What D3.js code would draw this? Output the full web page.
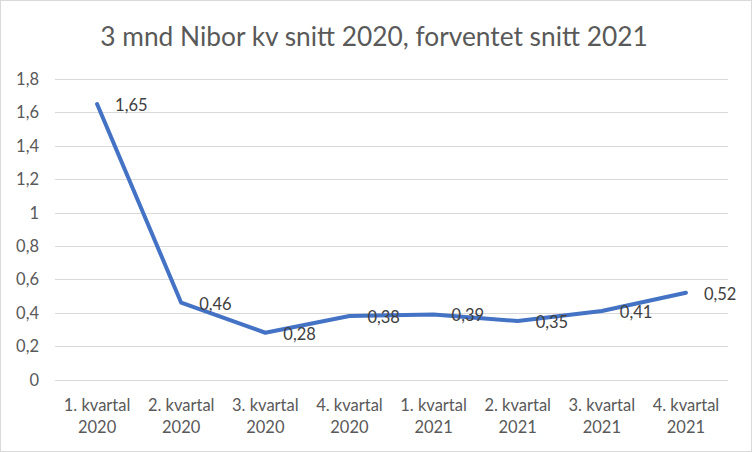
<!DOCTYPE html>
<html>
<head>
<meta charset="utf-8">
<script src="https://cdn.jsdelivr.net/npm/d3@7"></script>
<style>
  body { margin: 0; background: #fff; }
  text { font-family: Lato, "Open Sans", sans-serif; fill: #595959; }
</style>
</head>
<body>
<script>
// kvartaler og verdier
const quarters = ['1. kvartal', '2. kvartal', '3. kvartal', '4. kvartal', '1. kvartal', '2. kvartal', '3. kvartal', '4. kvartal'];
const years = ['2020', '2020', '2020', '2020', '2021', '2021', '2021', '2021'];
const nibor = [1.65, 0.46, 0.28, 0.38, 0.39, 0.35, 0.41, 0.52];
const yTicks = [0, 0.2, 0.4, 0.6, 0.8, 1, 1.2, 1.4, 1.6, 1.8];

const W = 752, H = 452;
const svg = d3.select('body').append('svg')
    .attr('width', W)
    .attr('height', H);

svg.append('rect')
    .attr('x', 0.5).attr('y', 0.5)
    .attr('width', W - 1).attr('height', H - 1)
    .attr('fill', '#fff')
    .attr('stroke', '#d9d9d9');

const comma = (v) => String(v).replace('.', ',');

const x = d3.scaleBand()
    .domain(d3.range(nibor.length))
    .range([55, 728]);

const y = d3.scaleLinear()
    .domain([0, 1.8])
    .range([379.5, 79]);

// rutenett
svg.selectAll('line.grid')
    .data(yTicks)
    .enter()
    .append('line')
    .attr('class', 'grid')
    .attr('x1', 55).attr('x2', 728)
    .attr('y1', (d) => Math.round(y(d)) + 0.5)
    .attr('y2', (d) => Math.round(y(d)) + 0.5)
    .attr('stroke', '#d9d9d9')
    .attr('stroke-width', 1);

svg.selectAll('text.ytick')
    .data(yTicks)
    .enter()
    .append('text')
    .attr('class', 'ytick')
    .attr('x', 39)
    .attr('y', (d) => y(d) + 6)
    .attr('text-anchor', 'end')
    .style('font-size', '16.5px')
    .text((d) => comma(d));

// kategorier
const cx = (i) => x(i) + x.bandwidth() / 2;
const xl = svg.selectAll('g.xlab')
    .data(quarters)
    .enter()
    .append('g')
    .attr('class', 'xlab');
xl.append('text')
    .attr('x', (d, i) => cx(i))
    .attr('y', 411)
    .attr('text-anchor', 'middle')
    .style('font-size', '16.5px')
    .text((d) => d);
xl.append('text')
    .attr('x', (d, i) => cx(i))
    .attr('y', 433)
    .attr('text-anchor', 'middle')
    .style('font-size', '16.5px')
    .text((d, i) => years[i]);

// linje
const line = d3.line()
    .x((d, i) => cx(i))
    .y((d) => y(d));

svg.append('path')
    .datum(nibor)
    .attr('d', line)
    .attr('fill', 'none')
    .attr('stroke', '#4472c4')
    .attr('stroke-width', 4)
    .attr('stroke-linecap', 'round')
    .attr('stroke-linejoin', 'round');

svg.selectAll('text.lbl')
    .data(nibor)
    .enter()
    .append('text')
    .attr('class', 'lbl')
    .attr('x', (d, i) => cx(i) + 18)
    .attr('y', (d) => y(d) + 7)
    .style('font-size', '16.5px')
    .style('fill', '#404040')
    .text((d) => comma(d));

svg.append('text')
    .attr('x', 374)
    .attr('y', 46)
    .attr('text-anchor', 'middle')
    .style('font-size', '26.3px')
    .text('3 mnd Nibor kv snitt 2020, forventet snitt 2021');
</script>
</body>
</html>
